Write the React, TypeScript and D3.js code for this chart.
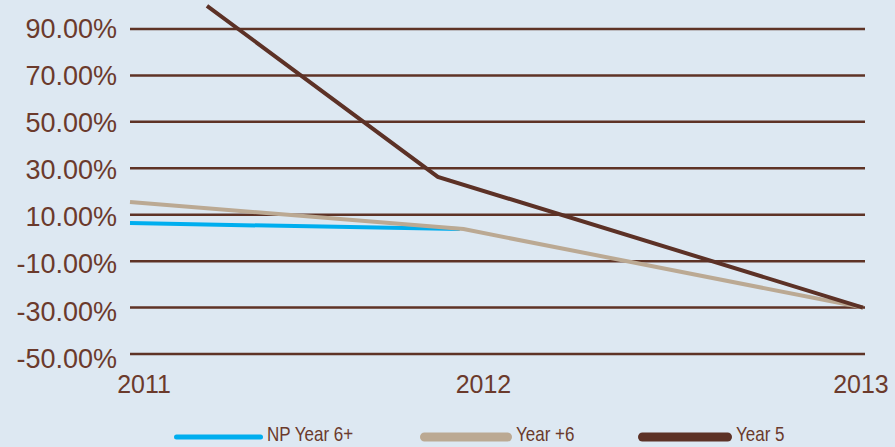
import React from "react";
import * as d3 from "d3";

// Yearly change series (x as fractional year, y in percent)
const npYear6Plus: [number, number][] = [
  [2011.0, 6.4],
  [2011.9, 3.8],
];
const yearPlus6: [number, number][] = [
  [2011.0, 15.5],
  [2011.91, 3.8],
  [2013.0, -30.0],
];
const year5: [number, number][] = [
  [2011.21, 100.0],
  [2011.84, 26.3],
  [2013.0, -30.0],
];

const yTicks = [90, 70, 50, 30, 10, -10, -30, -50];
const xTickYears = [2011, 2012, 2013];
const xTickLabels = ["2011", "2012", "2013"];

const seriesNames = ["NP Year 6+", "Year +6", "Year 5"];
const seriesColors = ["#00aeef", "#bba993", "#5c3126"];

const W = 895;
const H = 447;
const BG = "#dde8f2";
const TEXT = "#6b3a2c";
const GRID = "#5e3326";
const FONT = "'Liberation Sans', Arial, Helvetica, sans-serif";

const pct = (v: number) => d3.format(".2f")(Math.abs(v)).replace(/^/, v < 0 ? "-" : "") + "%";

function squeeze(cx: number, k: number) {
  return `translate(${cx},0) scale(${k},1) translate(${-cx},0)`;
}

export default function App() {
  const x = d3.scaleLinear().domain([2011, 2013]).range([130, 863]);
  const y = d3.scaleLinear().domain([-50, 90]).range([354, 29]);
  // tick labels drift a little from the grid spacing
  const yLabel = d3.scaleLinear().domain([-50, 90]).range([358, 28]);

  const line = d3
    .line<[number, number]>()
    .x((d) => x(d[0]))
    .y((d) => y(d[1]));

  const xLabelShift = [14, -13, -2];

  const legendX = [174, 420, 638];
  const legendLen = [89, 92, 94];
  const legendWidth = [5, 9, 9];

  return (
    <div style={{ position: "fixed", left: 0, top: 0 }}>
      <svg width={W} height={H} style={{ display: "block" }}>
        <rect width={W} height={H} fill={BG} />
        {yTicks.map((t) => (
          <g key={t}>
            <line
              x1={130}
              x2={865}
              y1={y(t)}
              y2={y(t)}
              stroke={GRID}
              strokeWidth={2.5}
            />
            <text
              x={117}
              y={yLabel(t)}
              dy="0.36em"
              textAnchor="end"
              fontFamily={FONT}
              fontSize={27}
              fill={TEXT}
            >
              {pct(t)}
            </text>
          </g>
        ))}
        {xTickYears.map((yr, i) => {
          const cx = x(yr) + xLabelShift[i];
          return (
            <text
              key={yr}
              x={cx}
              y={393}
              textAnchor="middle"
              fontFamily={FONT}
              fontSize={26}
              fill={TEXT}
              transform={squeeze(cx, 0.96)}
            >
              {xTickLabels[i]}
            </text>
          );
        })}
        {[npYear6Plus, yearPlus6, year5].map((s, i) => (
          <path
            key={i}
            d={line(s) || ""}
            fill="none"
            stroke={seriesColors[i]}
            strokeWidth={4}
            strokeLinejoin="miter"
          />
        ))}
        {seriesNames.map((n, i) => {
          const tx = legendX[i] + legendLen[i] + 4;
          return (
            <g key={n}>
              <line
                x1={legendX[i] + legendWidth[i] / 2}
                x2={legendX[i] + legendLen[i] - legendWidth[i] / 2}
                y1={437}
                y2={437}
                stroke={seriesColors[i]}
                strokeWidth={legendWidth[i]}
                strokeLinecap="round"
              />
              <text
                x={tx}
                y={441}
                fontFamily={FONT}
                fontSize={21}
                fill={TEXT}
                transform={squeeze(tx, 0.81)}
              >
                {n}
              </text>
            </g>
          );
        })}
      </svg>
    </div>
  );
}
